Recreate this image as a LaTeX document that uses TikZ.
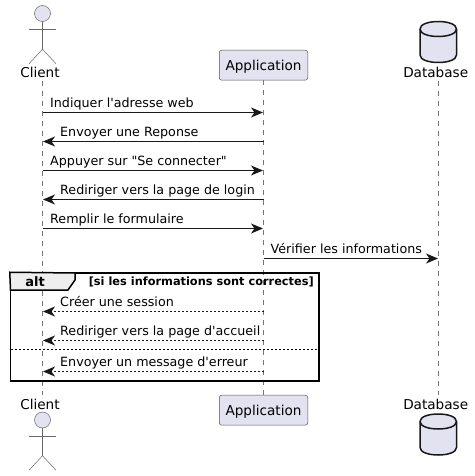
\documentclass[tikz,border=0pt]{standalone}
\usepackage{fontspec}
\setmainfont{DejaVu Sans}[Ligatures=TeXOff]
\usepackage{xcolor}
\usetikzlibrary{arrows.meta,positioning,calc}
\definecolor{partfill}{HTML}{E2E2F0}
\definecolor{partline}{HTML}{181818}
\definecolor{tabfill}{HTML}{EEEEEE}
\begin{document}
\begin{tikzpicture}[
    x=1pt, y=-1pt,
    box/.style={draw=partline!75, fill=partfill, rounded corners=2.5pt, line width=0.5pt, minimum width=88.5pt, minimum height=30pt, inner sep=0pt, text height=12.5pt, text depth=2pt, font=\fontsize{13.6}{16}\selectfont},
    actorhead/.style={draw=partline!65, fill=partfill, circle, line width=0.5pt, minimum size=16pt, inner sep=0pt},
    limb/.style={draw=partline!65, line width=0.5pt},
    dbshape/.style={draw=partline, fill=partfill, line width=1.5pt},
    partname/.style={inner sep=0pt, anchor=base, font=\fontsize{13.6}{16}\selectfont},
    lifeline/.style={draw=partline!60, line width=0.5pt, dash pattern=on 5pt off 5pt},
    arrow/.style={-{Stealth[length=12pt, width=10pt, inset=3.5pt]}, line width=1pt, draw=partline, shorten >=0.5pt},
    darrow/.style={arrow, dash pattern=on 2pt off 2pt},
    note/.style={inner sep=0pt, anchor=base west, text=black, font=\fontsize{12.7}{15}\selectfont},
    altframe/.style={draw=black, line width=1.5pt, inner sep=0pt, minimum width=308.5pt, minimum height=108pt},
    guard/.style={inner sep=0pt, anchor=base east, font=\fontsize{11.35}{13}\selectfont\bfseries}
]
    \useasboundingbox (0,0) rectangle (474,476);

    % Participants
    \node[actorhead] (clienthead) at (42.5,13.5) {};
    \node[partname] (clienttop) at (40,78) {Client};
    \node[box] (apptop) at (263.5,65.2) {Application};
    \node[partname] (dbtop) at (435.7,78) {Database};
    \node[partname] (clientbot) at (40,409) {Client};
    \node[box] (appbot) at (263.5,410.2) {Application};
    \node[partname] (dbbot) at (435.7,409) {Database};
    \node[actorhead] (clientheadb) at (42.5,420) {};

    % Free ends of the lifelines
    \coordinate (cstart) at (42.5,81);
    \coordinate (cend) at (42.5,395);
    \coordinate (dstart) at (438.5,81);
    \coordinate (dend) at (438.5,395);
    \draw[lifeline] (cstart) -- (cend);
    \draw[lifeline] (apptop) -- (appbot);
    \draw[lifeline] (dstart) -- (dend);

    % Actor, top and bottom
    \foreach \hd in {clienthead, clientheadb} {
        \draw[limb] (\hd.south) -- ++(0,27.5) coordinate (hip);
        \draw[limb] ($(hip)+(-13.5,-19.5)$) -- ++(27,0);
        \draw[limb] ($(hip)+(-13.5,14.5)$) -- (hip) -- ++(13.5,14.5);
    }

    % Database, top and bottom
    \foreach \ty in {19, 411.5} {
        \draw[dbshape] (420,\ty+10) .. controls (420,\ty) and (456.5,\ty) .. (456.5,\ty+10)
            -- (456.5,\ty+36) .. controls (456.5,\ty+46) and (420,\ty+46) .. (420,\ty+36) -- cycle;
        \draw[dbshape, fill=none] (420,\ty+10) .. controls (420,\ty+20) and (456.5,\ty+20) .. (456.5,\ty+10);
    }

    % Rows on the lifelines
    \foreach \n/\y in {1/112.5, 2/141.5, 3/170.5, 4/199.5, 5/228.5, 6/258.5, 7/311.5, 8/340.5, 9/371.5} {
        \coordinate (c\n) at (42.5,\y);
        \coordinate (a\n) at (263.5,\y);
        \coordinate (d\n) at (438.5,\y);
    }

    % Alt frame
    \node[altframe] (altbox) at (164.75,327) {};
    \draw[line width=1.5pt, draw=black, fill=tabfill] (altbox.north west) -- (75,273) -- (75,280) -- (68,290) -- (10.5,290) -- cycle;
    \node[inner sep=0pt, anchor=base, font=\fontsize{13}{15}\selectfont\bfseries] (alttag) at (35,286) {alt};
    \node[guard] (altguard) at (314,285) {[si les informations sont correctes]};
    \coordinate (sepl) at (10.5,349);
    \coordinate (sepr) at (319,349);
    \draw[black, line width=0.8pt, dash pattern=on 2pt off 2pt] (sepl) -- (sepr);

    % Messages
    \draw[arrow] (c1) -- (a1);
    \node[note] (m1) at (50,107) {Indiquer l'adresse web};
    \draw[arrow] (a2) -- (c2);
    \node[note] (m2) at (60,136) {Envoyer une Reponse};
    \draw[arrow] (c3) -- (a3);
    \node[note] (m3) at (50,165) {Appuyer sur "Se connecter"};
    \draw[arrow] (a4) -- (c4);
    \node[note] (m4) at (60,194) {Rediriger vers la page de login};
    \draw[arrow] (c5) -- (a5);
    \node[note] (m5) at (50,223) {Remplir le formulaire};
    \draw[arrow] (a6) -- (d6);
    \node[note] (m6) at (270.5,253) {Vérifier les informations};
    \draw[darrow] (a7) -- (c7);
    \node[note] (m7) at (60,306) {Créer une session};
    \draw[darrow] (a8) -- (c8);
    \node[note] (m8) at (60,335) {Rediriger vers la page d'accueil};
    \draw[darrow] (a9) -- (c9);
    \node[note] (m9) at (60,366) {Envoyer un message d'erreur};
\end{tikzpicture}
\end{document}
